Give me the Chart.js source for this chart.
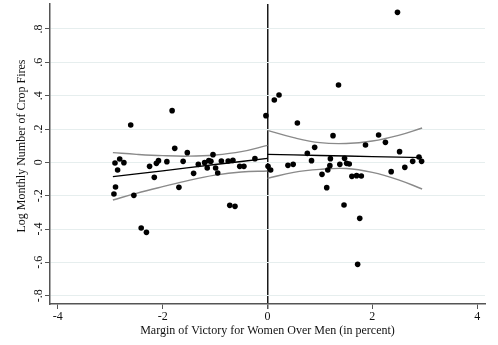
<!DOCTYPE html>
<html>
<head>
<meta charset="utf-8">
<script src="https://cdn.jsdelivr.net/npm/chart.js@4"></script>
<style>
  html, body { margin: 0; padding: 0; background: #fff; }
  #wrap { width: 498px; height: 345px; }
</style>
</head>
<body>
<div id="wrap"><canvas id="c" width="498" height="345"></canvas></div>
<script>
// Districts: margin of victory (women over men, %) and log monthly crop fires
const leftMargin = [-1.82, -2.61, -0.03, -1.77, -1.53, -2.82, -2.91, -2.74, -2.86, -2.25,
  -2.12, -2.08, -1.92, -2.16, -1.61, -1.41, -1.32, -1.20, -1.15, -1.12,
  -1.08, -1.04, -0.99, -0.95, -0.88, -0.75, -0.66, -0.53, -0.45, -0.24,
  -2.93, -2.90, -2.55, -1.69, -0.72, -0.62, -2.41, -2.31];
const leftFires = [0.310, 0.224, 0.280, 0.084, 0.058, 0.020, -0.004, -0.002, -0.046, -0.024,
  -0.006, 0.010, 0.004, -0.090, 0.006, -0.066, -0.012, -0.002, -0.034, 0.010,
  0.006, 0.046, -0.034, -0.064, 0.008, 0.008, 0.012, -0.024, -0.024, 0.022,
  -0.190, -0.148, -0.198, -0.150, -0.258, -0.264, -0.394, -0.420];

const rightMargin = [2.48, 1.355, 0.22, 0.13, 0.57, 1.25, 2.12, 2.25, 1.87, 0.90,
  0.76, 2.52, 0.84, 1.20, 1.47, 2.89, 2.77, 2.94, 1.38, 1.51,
  1.56, 1.19, 0.39, 0.49, 0.01, 0.06, 1.15, 1.04, 2.36, 2.62,
  1.61, 1.70, 1.79, 1.13, 1.46, 1.76, 1.72];
const rightFires = [0.900, 0.464, 0.404, 0.374, 0.236, 0.160, 0.164, 0.120, 0.104, 0.090,
  0.054, 0.064, 0.010, 0.022, 0.024, 0.032, 0.006, 0.006, -0.012, -0.006,
  -0.010, -0.020, -0.018, -0.012, -0.024, -0.046, -0.046, -0.072, -0.056, -0.030,
  -0.084, -0.080, -0.082, -0.152, -0.256, -0.336, -0.612];

// Linear fits with 95% confidence bands on each side of the cutoff
const leftFitX   = [-2.95, -2.5, -2.0, -1.5, -1.0, -0.5, 0.0];
const leftFit    = [-0.086, -0.069, -0.051, -0.032, -0.013, 0.005, 0.024];
const leftUpper  = [0.058, 0.048, 0.040, 0.037, 0.044, 0.064, 0.102];
const leftLower  = [-0.226, -0.186, -0.146, -0.108, -0.077, -0.058, -0.052];

const rightFitX  = [0.0, 0.5, 1.0, 1.5, 2.0, 2.5, 2.95];
const rightFit   = [0.048, 0.045, 0.041, 0.038, 0.034, 0.031, 0.028];
const rightUpper = [0.192, 0.148, 0.118, 0.113, 0.128, 0.162, 0.206];
const rightLower = [-0.096, -0.060, -0.042, -0.037, -0.060, -0.105, -0.160];

const xTicks = [-4, -2, 0, 2, 4];
const yTicks = [-0.8, -0.6, -0.4, -0.2, 0, 0.2, 0.4, 0.6, 0.8];
const xTitle = 'Margin of Victory for Women Over Men (in percent)';
const yTitle = 'Log Monthly Number of Crop Fires';

const SERIF = '"Liberation Serif", "Times New Roman", serif';
const TEXT = '#111';
const AXIS = '#555';

const pairs = (xs, ys) => xs.map((x, i) => ({ x, y: ys[i] }));
const stataFmt = v => {
  if (Math.abs(v) < 1e-9) return '0';
  const s = Math.abs(v).toFixed(1).replace(/^0/, '');
  return (v < 0 ? '-' : '') + s;
};

const lineDs = (xs, ys, color, curved) => ({
  data: pairs(xs, ys),
  showLine: true,
  pointRadius: 0,
  borderColor: color,
  borderWidth: 1.4,
  tension: curved ? 0.4 : 0,
  order: 2
});

// Rotated y tick labels and both axis titles
const axisText = {
  id: 'axisText',
  afterDraw(chart) {
    const { ctx, scales: { x, y }, chartArea } = chart;
    ctx.save();
    ctx.font = '12px ' + SERIF;
    ctx.fillStyle = TEXT;
    ctx.textAlign = 'center';
    ctx.textBaseline = 'middle';
    y.ticks.forEach(t => {
      const py = y.getPixelForValue(t.value);
      ctx.save();
      ctx.translate(chartArea.left - 11.5, py);
      ctx.rotate(-Math.PI / 2);
      ctx.fillText(stataFmt(t.value), 0, 0);
      ctx.restore();
    });
    ctx.save();
    ctx.translate(chartArea.left - 28.5, 146);
    ctx.rotate(-Math.PI / 2);
    ctx.fillText(yTitle, 0, 0);
    ctx.restore();
    ctx.fillText(xTitle, x.getPixelForValue(0), 331);
    ctx.restore();
  }
};

new Chart(document.getElementById('c'), {
  type: 'scatter',
  data: {
    datasets: [
      lineDs(leftFitX, leftUpper, '#8a8a8a', true),
      lineDs(leftFitX, leftLower, '#8a8a8a', true),
      lineDs(rightFitX, rightUpper, '#8a8a8a', true),
      lineDs(rightFitX, rightLower, '#8a8a8a', true),
      lineDs(leftFitX, leftFit, '#000', false),
      lineDs(rightFitX, rightFit, '#000', false),
      {
        data: pairs(leftMargin, leftFires).concat(pairs(rightMargin, rightFires)),
        pointRadius: 2.8,
        pointBackgroundColor: '#000',
        pointBorderWidth: 0,
        order: 1
      }
    ]
  },
  options: {
    responsive: false,
    animation: false,
    devicePixelRatio: 1,
    layout: { padding: { left: 0, right: 13, top: 4, bottom: 0 } },
    plugins: { legend: { display: false }, tooltip: { enabled: false } },
    scales: {
      x: {
        type: 'linear',
        min: -4.15,
        max: 4.15,
        afterBuildTicks: s => { s.ticks = xTicks.map(v => ({ value: v })); },
        afterFit: s => { s.height = 41; },
        grid: {
          drawOnChartArea: true,
          color: c => (c.tick && c.tick.value === 0 ? '#1a1a1a' : 'rgba(0,0,0,0)'),
          lineWidth: c => (c.tick && c.tick.value === 0 ? 1.5 : 1),
          tickColor: AXIS,
          tickLength: 5
        },
        border: { display: true, color: AXIS, width: 1.5 },
        ticks: {
          color: TEXT,
          font: { family: SERIF, size: 12 },
          padding: 1,
          maxRotation: 0,
          callback: v => String(v)
        }
      },
      y: {
        type: 'linear',
        min: -0.85,
        max: 0.95,
        afterBuildTicks: s => { s.ticks = yTicks.map(v => ({ value: v })); },
        afterFit: s => { s.width = 50; },
        grid: {
          color: '#e6eeee',
          lineWidth: 1,
          tickColor: AXIS,
          tickLength: 5
        },
        border: { display: true, color: AXIS, width: 1.5 },
        ticks: { display: false }
      }
    }
  },
  plugins: [axisText]
});
</script>
</body>
</html>
